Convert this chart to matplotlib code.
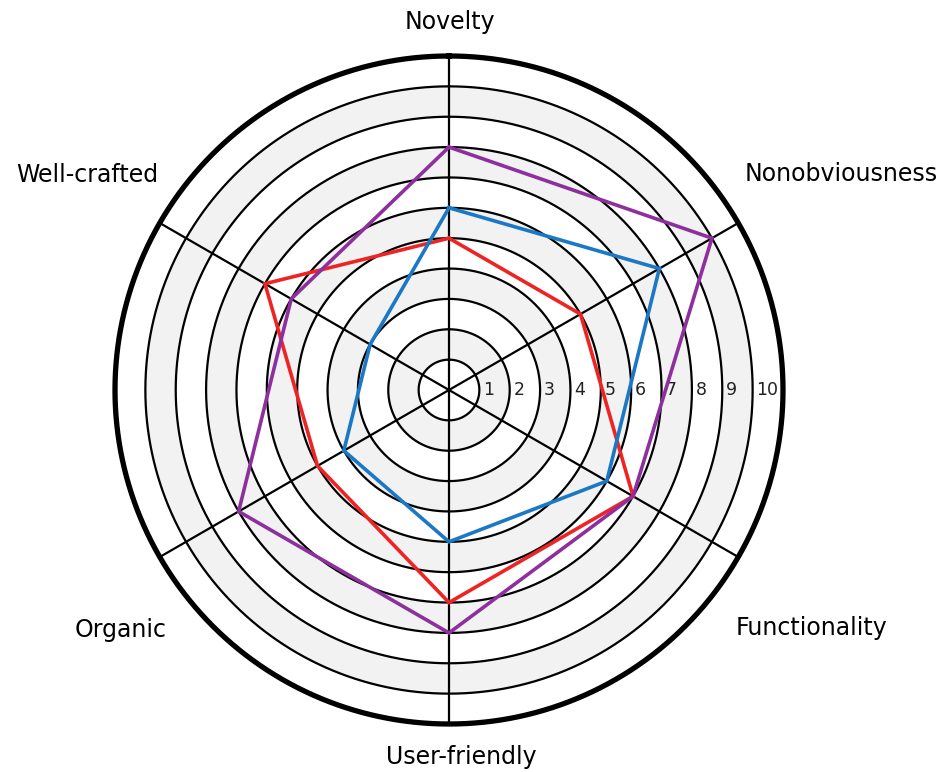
import numpy as np
import matplotlib
matplotlib.use("Agg")
import matplotlib.pyplot as plt

categories = ["Novelty", "Nonobviousness", "Functionality", "User-friendly", "Organic", "Well-crafted"]
series_red = [5, 5, 7, 7, 5, 7]
series_blue = [6, 8, 6, 5, 4, 3]
series_purple = [8, 10, 7, 8, 8, 6]
ring_levels = list(range(1, 11))
r_max = 11

W, H = 948, 772
fig = plt.figure(figsize=(W / 100, H / 100), dpi=100)
cx, cy, R = 449, 390, 334
ax = fig.add_axes([(cx - R) / W, (H - cy - R) / H, 2 * R / W, 2 * R / H], projection="polar")
ax.set_theta_zero_location("N")
ax.set_theta_direction(-1)
ax.set_ylim(0, r_max)
ax.grid(False)
ax.set_xticks([])
ax.set_yticks([])
ax.spines["polar"].set_visible(False)
ax.patch.set_alpha(0)

th = np.linspace(0, 2 * np.pi, 721)
# alternating shaded bands
for k in ring_levels:
    if k % 2 == 1:
        ax.fill_between(th, k, k + 1, color="#f2f2f2", lw=0, zorder=0)
# rings
for k in ring_levels:
    ax.plot(th, np.full_like(th, k), color="black", lw=1.6, zorder=1)
ax.plot(th, np.full_like(th, r_max), color="black", lw=3.8, zorder=1, clip_on=False)

n = len(categories)
angles = np.arange(n) * 2 * np.pi / n
for a in angles:
    ax.plot([a, a], [0, r_max], color="black", lw=1.6, zorder=1)

# tick labels along east direction
for k in ring_levels:
    ax.text(np.pi / 2, k + 0.12, str(k), ha="left", va="center", fontsize=12.5,
            color="#222222", zorder=2)

closed = np.concatenate([angles, angles[:1]])
for vals, col in [(series_red, "#ee2424"), (series_blue, "#1b78c4"), (series_purple, "#8e2f9e")]:
    v = list(vals) + [vals[0]]
    ax.plot(closed, v, color=col, lw=2.6, zorder=3, solid_joinstyle="miter")

label_pos = [(450, 22), (841, 174), (811, 628), (461, 757), (121, 630), (87, 175)]
for name, (x, y) in zip(categories, label_pos):
    fig.text(x / W, 1 - y / H, name, ha="center", va="center", fontsize=17, color="black")

fig.savefig("out.png", dpi=100)
